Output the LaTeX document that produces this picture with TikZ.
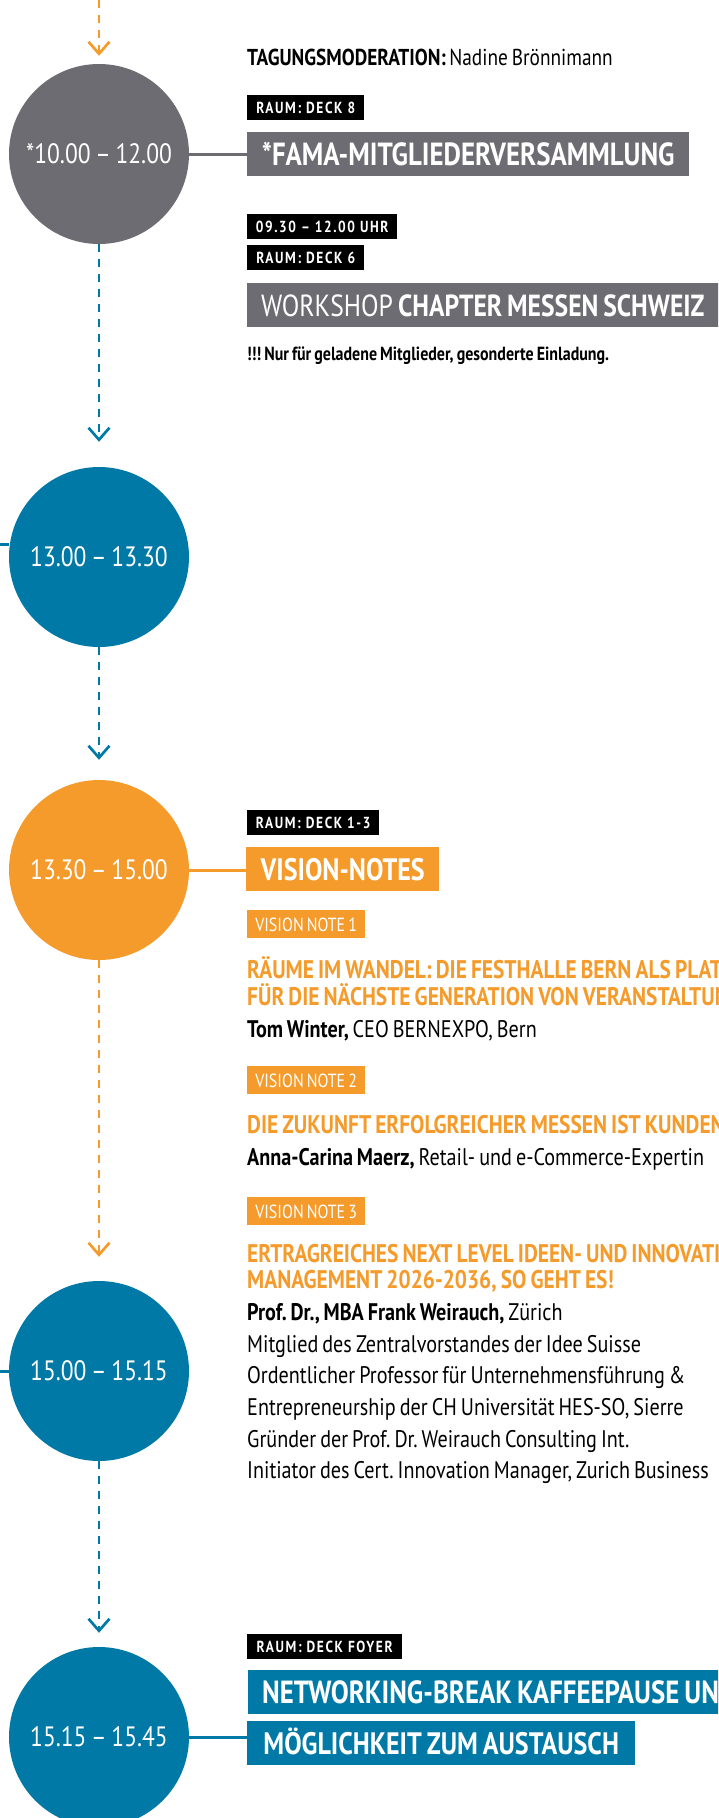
\documentclass[tikz,border=0pt]{standalone}
\usepackage{fontspec}
\setmainfont{PT Sans}[FakeStretch=0.84,WordSpace=0.75]
\newfontfamily\tagfont{PT Sans}[FakeStretch=0.84,LetterSpace=10]
\usetikzlibrary{arrows.meta}
\definecolor{famagray}{HTML}{6D6C72}
\definecolor{famablue}{HTML}{0079A6}
\definecolor{famaorange}{HTML}{F49B2C}
\frenchspacing
\newcommand{\tobord}{\hspace*{200pt}} % box runs on past the right border
\begin{document}
\begin{tikzpicture}[x=1pt,y=-1pt,
    time node/.style={circle,minimum size=180pt,inner sep=0pt,text=white,
      font=\fontsize{28}{28}\selectfont},
    tag/.style={anchor=north west,fill=black,text=white,inner xsep=7pt,inner ysep=0pt,
      minimum height=25pt,text height=11pt,text depth=0pt,
      font=\tagfont\bfseries\fontsize{16}{16}\selectfont},
    title box/.style={anchor=west,text=white,inner xsep=14pt,inner ysep=0pt,
      minimum height=44pt,text height=22pt,text depth=0pt,
      font=\bfseries\fontsize{31}{31}\selectfont},
    note tag/.style={anchor=north west,fill=famaorange,text=white,inner xsep=6pt,inner ysep=0pt,
      minimum height=28pt,minimum width=118pt,text height=14pt,text depth=0pt,
      font=\fontsize{19}{19}\selectfont},
    line/.style={anchor=base west,inner sep=0pt,font=\fontsize{24}{24}\selectfont},
    head/.style={anchor=base west,inner sep=0pt,text=famaorange,
      font=\bfseries\fontsize{25.5}{25.5}\selectfont},
    flow/.style={dash pattern=on 8pt off 7pt,line width=2.7pt,
      -{Straight Barb[length=12pt,width=21pt]}},
    link/.style={line width=3pt}
  ]
  \useasboundingbox (0,0) rectangle (718,1818);
  \clip (0,0) rectangle (718,1818);

  % time line
  \coordinate (top) at (99,0);
  \node[time node,fill=famagray] (c1) at (99,154) {*10.00 – 12.00};
  \node[time node,fill=famablue] (c2) at (99,557) {13.00 – 13.30};
  \node[time node,fill=famaorange] (c3) at (99,870) {13.30 – 15.00};
  \node[time node,fill=famablue] (c4) at (99,1371) {15.00 – 15.15};
  \node[time node,fill=famablue] (c5) at (99,1737) {15.15 – 15.45};
  \coordinate (in2) at (0,544);
  \coordinate (in4) at (0,1371);

  % block 1
  \node[line,font=\fontsize{23}{23}\selectfont] (mod) at (247,65) {\bfseries TAGUNGSMODERATION: \mdseries Nadine Brönnimann};
  \node[tag,minimum width=117pt] (r8) at (247,95) {RAUM: DECK 8};
  \node[title box,fill=famagray,minimum width=442pt,font=\bfseries\fontsize{32}{32}\selectfont] (fama) at (247,154) {*FAMA-MITGLIEDERVERSAMMLUNG};
  \node[tag,minimum width=150pt] (uhr) at (247,214) {09.30 – 12.00 UHR};
  \node[tag,minimum width=117pt] (r6) at (247,245) {RAUM: DECK 6};
  \node[title box,fill=famagray,font=\bfseries\fontsize{30.5}{30.5}\selectfont] (ws) at (247,305) {\mdseries WORKSHOP \bfseries CHAPTER MESSEN SCHWEIZ\tobord};
  \node[line,font=\bfseries\fontsize{19}{19}\selectfont] (hint) at (247,360) {!!! Nur für geladene Mitglieder, gesonderte Einladung.};

  % block 3
  \node[tag,minimum width=132pt] (r13) at (247,810) {RAUM: DECK 1-3};
  \node[title box,fill=famaorange,minimum width=193pt] (vn) at (246,869) {VISION-NOTES};
  \node[note tag] (n1) at (247,910) {VISION NOTE 1};
  \node[head] (h1a) at (247,978) {RÄUME IM WANDEL: DIE FESTHALLE BERN ALS PLATTFORM};
  \node[head] (h1b) at (247,1005) {FÜR DIE NÄCHSTE GENERATION VON VERANSTALTUNGEN};
  \node[line] (p1) at (247,1037) {\bfseries Tom Winter, \mdseries CEO BERNEXPO, Bern};
  \node[note tag] (n2) at (247,1066) {VISION NOTE 2};
  \node[head] (h2) at (247,1133) {DIE ZUKUNFT ERFOLGREICHER MESSEN IST KUNDENZENTRIERT};
  \node[line] (p2) at (247,1165) {\bfseries Anna-Carina Maerz, \mdseries Retail- und e-Commerce-Expertin};
  \node[note tag] (n3) at (247,1197) {VISION NOTE 3};
  \node[head] (h3a) at (247,1262) {ERTRAGREICHES NEXT LEVEL IDEEN- UND INNOVATIONS-};
  \node[head] (h3b) at (247,1288) {MANAGEMENT 2026-2036, SO GEHT ES!};
  \node[line] (p3) at (247,1320) {\bfseries Prof. Dr., MBA Frank Weirauch, \mdseries Zürich};
  \node[line] (p3a) at (247,1352) {Mitglied des Zentralvorstandes der Idee Suisse};
  \node[line] (p3b) at (247,1383) {Ordentlicher Professor für Unternehmensführung \&};
  \node[line] (p3c) at (247,1415) {Entrepreneurship der CH Universität HES-SO, Sierre};
  \node[line] (p3d) at (247,1447) {Gründer der Prof. Dr. Weirauch Consulting Int.};
  \node[line] (p3e) at (247,1478) {Initiator des Cert. Innovation Manager, Zurich Business};

  % block 5
  \node[tag,minimum width=155pt] (rf) at (247,1634) {RAUM: DECK FOYER};
  \node[title box,fill=famablue,font=\bfseries\fontsize{32}{32}\selectfont] (nw) at (248,1692) {NETWORKING-BREAK KAFFEEPAUSE UND\tobord};
  \node[title box,fill=famablue,minimum width=388pt] (mx) at (247,1743) {MÖGLICHKEIT ZUM AUSTAUSCH};

  \path (top) edge[flow,famaorange,shorten >=8pt] (c1)
        (c1) edge[flow,famablue,shorten >=25pt] (c2)
        (c2) edge[flow,famablue,shorten >=20pt] (c3)
        (c3) edge[flow,famaorange,shorten >=24pt] (c4)
        (c4) edge[flow,famablue,shorten >=14pt] (c5);
  \path (c1.east) edge[link,famagray] (c1.east -| fama.west)
        (c3.east) edge[link,famaorange] (c3.east -| vn.west)
        (c5.east) edge[link,famablue] (c5.east -| mx.west)
        (in2) edge[link,famablue] (in2 -| c2.west)  % stub from the left
        (in4) edge[link,famablue] (c4.west);
\end{tikzpicture}
\end{document}
